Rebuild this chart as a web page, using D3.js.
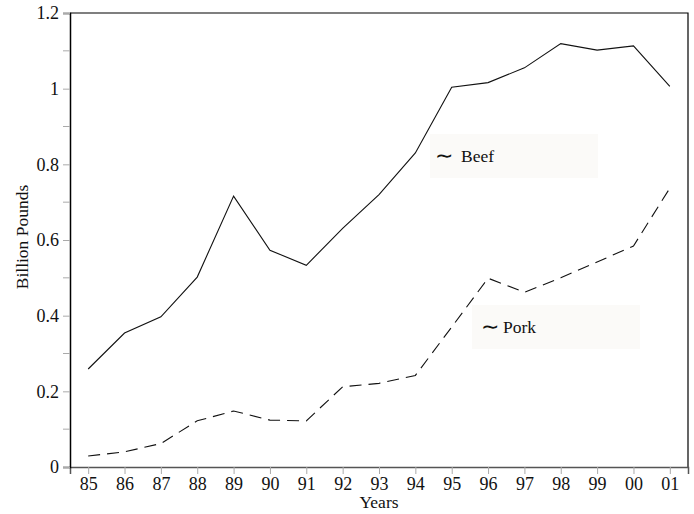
<!DOCTYPE html>
<html>
<head>
<meta charset="utf-8">
<script src="https://cdn.jsdelivr.net/npm/d3@7"></script>
<style>
  body { margin: 0; background: #fff; }
  svg text { font-family: "Liberation Serif", "Times New Roman", serif; fill: #111; }
</style>
</head>
<body>
<div id="chart"></div>
<script>
// chart data
var years = ["85", "86", "87", "88", "89", "90", "91", "92", "93", "94", "95", "96", "97", "98", "99", "00", "01"];
var beefValues = [0.259, 0.354, 0.397, 0.502, 0.716, 0.573, 0.533, 0.631, 0.72, 0.83, 1.004, 1.016, 1.055, 1.119, 1.102, 1.113, 1.006];
var porkValues = [0.029, 0.040, 0.062, 0.122, 0.148, 0.124, 0.122, 0.212, 0.221, 0.242, 0.370, 0.499, 0.462, 0.500, 0.542, 0.584, 0.737];
var yTicks = [0, 0.2, 0.4, 0.6, 0.8, 1, 1.2];
var yMinorTicks = [0.1, 0.3, 0.5, 0.7, 0.9, 1.1];

var serif = "'Liberation Serif', 'Times New Roman', serif";
var width = 694, height = 514;
var margin = {top: 13, right: 6, bottom: 47, left: 70};
var plotW = width - margin.left - margin.right;
var plotH = height - margin.top - margin.bottom;

var svg = d3.select("#chart").append("svg")
    .attr("width", width)
    .attr("height", height);

var g = svg.append("g")
    .attr("transform", "translate(" + margin.left + "," + margin.top + ")");

var x = d3.scalePoint().domain(years).range([0, plotW]).padding(0.5);
var y = d3.scaleLinear().domain([0, 1.2]).range([plotH, 0]);

// frame top and right
g.append("path")
    .attr("d", "M0,0H" + plotW + "V" + plotH)
    .attr("fill", "none")
    .attr("stroke", "#000")
    .attr("stroke-width", 1.2);

// x axis
var xAxis = g.append("g")
    .attr("transform", "translate(0," + plotH + ")")
    .call(d3.axisBottom(x).tickSize(7).tickPadding(3))
    .attr("font-family", serif)
    .attr("font-size", 18);
xAxis.select(".domain").attr("stroke", "#555").attr("stroke-width", 1.5);
xAxis.selectAll(".tick line").attr("stroke", "#aaa");

// y axis
var yAxis = g.append("g")
    .call(d3.axisLeft(y).tickValues(yTicks).tickSize(7).tickPadding(4).tickFormat(d3.format("~g")))
    .attr("font-family", serif)
    .attr("font-size", 18);
yAxis.select(".domain").attr("stroke", "#000").attr("stroke-width", 1.5);
yAxis.selectAll(".tick line").attr("stroke", "#aaa");

// minor ticks without labels
g.append("g").selectAll("line")
    .data(yMinorTicks)
    .enter().append("line")
    .attr("x1", -7).attr("x2", 0)
    .attr("y1", function(d) { return y(d); })
    .attr("y2", function(d) { return y(d); })
    .attr("stroke", "#aaa");

// axis titles
svg.append("text")
    .attr("x", 379)
    .attr("y", 508)
    .attr("text-anchor", "middle")
    .style("font-size", "17.5px")
    .text("Years");

svg.append("text")
    .attr("transform", "translate(28,237) rotate(-90)")
    .attr("text-anchor", "middle")
    .style("font-size", "17.5px")
    .text("Billion Pounds");

// lines
var line = d3.line()
    .x(function(d, i) { return x(years[i]); })
    .y(function(d) { return y(d); });

g.append("path")
    .datum(beefValues)
    .attr("d", line)
    .attr("fill", "none")
    .attr("stroke", "#111")
    .attr("stroke-width", 1.1);

g.append("path")
    .datum(porkValues)
    .attr("d", line)
    .attr("fill", "none")
    .attr("stroke", "#111")
    .attr("stroke-width", 1.1)
    .attr("stroke-dasharray", "12,7");

// labels in light boxes
var labels = [
    {name: "Beef", x: 430, y: 134, pad: 5, gap: 8},
    {name: "Pork", x: 472, y: 305, pad: 9, gap: 4}
];
labels.forEach(function(l) {
    svg.append("rect")
        .attr("x", l.x).attr("y", l.y)
        .attr("width", 168).attr("height", 44)
        .attr("fill", "#fbfaf8");
    var t = svg.append("text")
        .attr("x", l.x + l.pad).attr("y", l.y + 28)
        .style("font-size", "17.5px");
    t.append("tspan").style("font-size", "22px").attr("dy", "1").text("\u223C");
    t.append("tspan").attr("dx", l.gap).attr("dy", "-1").text(l.name);
});
</script>
</body>
</html>
